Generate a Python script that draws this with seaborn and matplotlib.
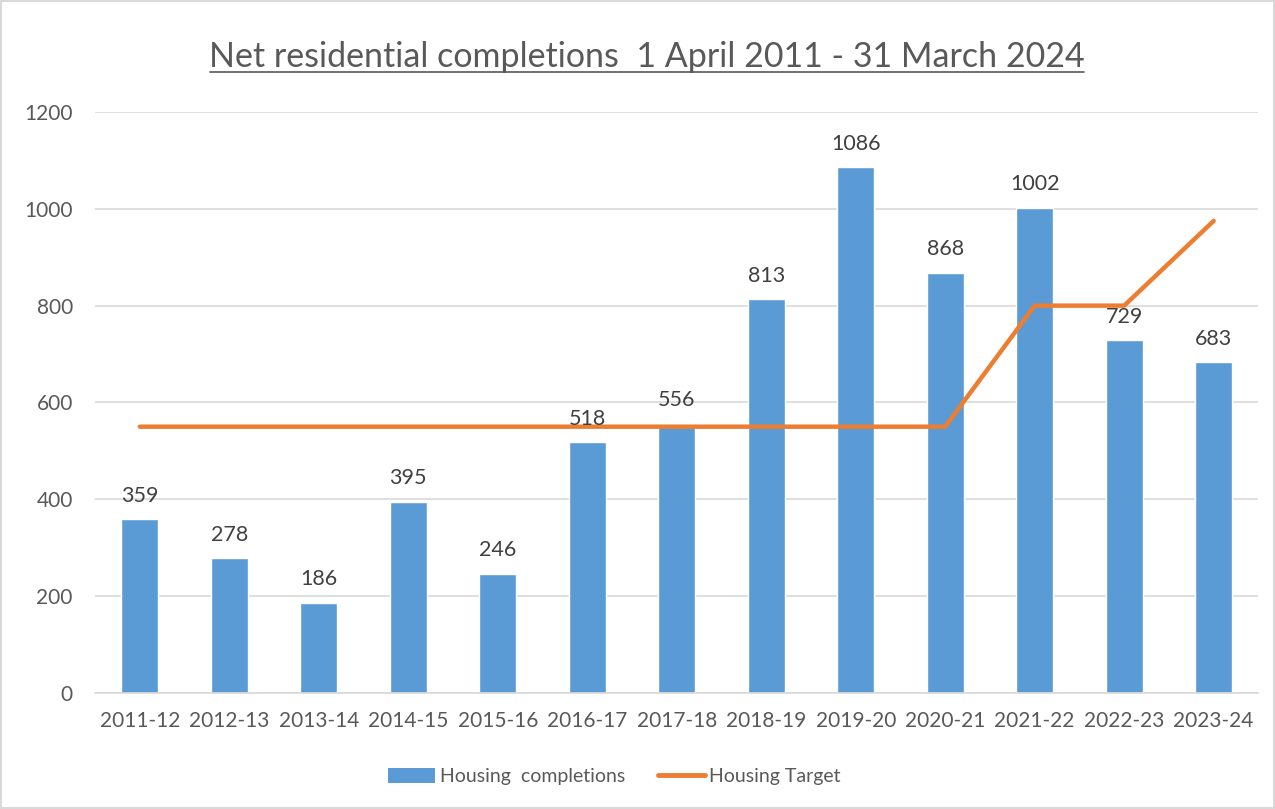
import matplotlib
matplotlib.use("Agg")
import matplotlib.pyplot as plt
import seaborn as sns
import pandas as pd
from matplotlib.patches import Patch
from matplotlib.lines import Line2D

# chart data
years = ["2011-12", "2012-13", "2013-14", "2014-15", "2015-16", "2016-17", "2017-18",
         "2018-19", "2019-20", "2020-21", "2021-22", "2022-23", "2023-24"]
completions = [359, 278, 186, 395, 246, 518, 556, 813, 1086, 868, 1002, 729, 683]
target = [550, 550, 550, 550, 550, 550, 550, 550, 550, 550, 800, 800, 975]

BAR = "#5B9BD5"
LINE = "#ED7D31"
TXT = "#595959"

sns.set_theme(style="white")
plt.rcParams["font.family"] = ["Lato", "DejaVu Sans"]

df = pd.DataFrame({"year": years, "completions": completions, "target": target})

fig = plt.figure(figsize=(12.75, 8.09), dpi=100)
fig.patch.set_edgecolor("#D9D9D9")
fig.patch.set_linewidth(1.5)
ax = fig.add_axes([0.0745, 0.1434, 0.9125, 0.7182])

sns.barplot(data=df, x="year", y="completions", color=BAR, width=0.41,
            saturation=1, ax=ax, zorder=2)
sns.lineplot(data=df, x="year", y="target", color=LINE, linewidth=3.2,
             sort=False, ax=ax, zorder=3)

for i, v in enumerate(completions):
    ax.text(i, v + 36, str(v), ha="center", va="baseline", fontsize=15.5,
            color="#404040", zorder=4)

ax.set_ylim(0, 1200)
ax.set_xlim(-0.5, len(years) - 0.5)
ax.set_yticks(range(0, 1201, 200))
ax.yaxis.grid(True, color="#D9D9D9", linewidth=1.2, zorder=0)
ax.set_axisbelow(True)
for s in ["top", "right", "left"]:
    ax.spines[s].set_visible(False)
ax.spines["bottom"].set_color("#D9D9D9")
ax.spines["bottom"].set_linewidth(1.2)
ax.tick_params(axis="both", length=0, labelsize=15, colors=TXT)
ax.tick_params(axis="y", pad=16)
ax.tick_params(axis="x", pad=13)
ax.set_xlabel("")
ax.set_ylabel("")

fig.text(0.507, 0.929, "Net residential completions  1 April 2011 - 31 March 2024",
         ha="center", va="center", fontsize=24.5, color=TXT)
# underline for the title
fig.add_artist(Line2D([0.165, 0.85], [0.911, 0.911], color=TXT, linewidth=1.2))

handles = [Patch(facecolor=BAR, edgecolor="none"),
           Line2D([0], [0], color=LINE, linewidth=3.5, solid_capstyle="round")]
fig.legend(handles, ["Housing  completions", "Housing Target"], loc="center",
           bbox_to_anchor=(0.482, 0.04), ncol=2, frameon=False, fontsize=14,
           labelcolor=TXT, handlelength=2.4, handleheight=0.85, handletextpad=0.25,
           columnspacing=1.7)

fig.savefig("out.png", dpi=100)
